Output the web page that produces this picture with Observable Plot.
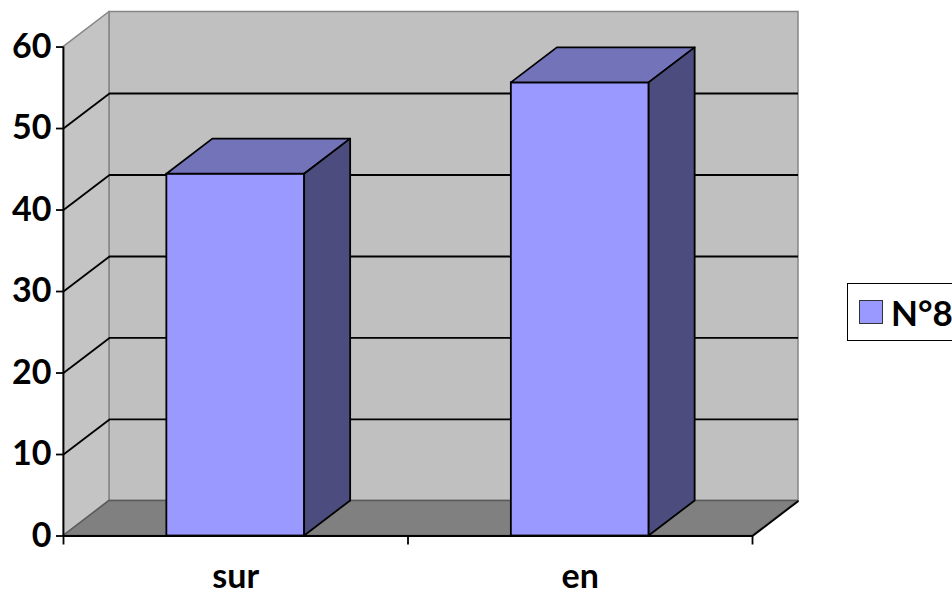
<!DOCTYPE html>
<html>
<head>
<meta charset="utf-8">
<script src="https://cdn.jsdelivr.net/npm/d3@7"></script>
<script src="https://cdn.jsdelivr.net/npm/@observablehq/plot@0.6"></script>
<style>
  body { margin: 0; background: #fff; overflow: hidden; }
  #chart { position: relative; width: 952px; height: 595px; }
  .legend {
    position: absolute; left: 847px; top: 283px; width: 130px; height: 58px;
    box-sizing: border-box; border: 1.5px solid #000; background: #fff;
    display: flex; align-items: center;
    font-family: Lato, "Open Sans", sans-serif; font-weight: bold; font-size: 35px; color: #000;
  }
  .legend .swatch {
    width: 22px; height: 22px; margin: 0 8px 0 11px; background: #9999ff; border: 1px solid #333;
  }
</style>
</head>
<body>
<div id="chart"></div>
<script>
// Categories and values of the single series
const categories = ["sur", "en"];
const values = [44.4, 55.6];
const yTicks = [0, 10, 20, 30, 40, 50, 60];
const seriesName = "N°8";

// Depth of the 3D box: in category units along x and value units along y
const DX = 0.1335, DY = 4.3;
const n = categories.length;
const yMax = yTicks[yTicks.length - 1];
const barLo = 0.3, barHi = 0.7;

const bars = categories.map((c, i) => ({ c, x0: i + barLo, x1: i + barHi, v: values[i] }));
const tops = bars.flatMap(b => [
  { c: b.c, y: b.v, x1: b.x0, x2: b.x1 },
  { c: b.c, y: b.v + DY, x1: b.x0 + DX, x2: b.x1 + DX }
]);
const sides = bars.flatMap(b => [
  { c: b.c, x: b.x1, y1: 0, y2: b.v },
  { c: b.c, x: b.x1 + DX, y1: DY, y2: b.v + DY }
]);
const leftWall = [{ x: 0, y1: 0, y2: yMax }, { x: DX, y1: DY, y2: yMax + DY }];
const floor = [{ y: 0, x1: 0, x2: n }, { y: DY, x1: DX, x2: n + DX }];
const grid = yTicks.slice(1, -1);

const plot = Plot.plot({
  width: 952,
  height: 595,
  marginLeft: 63,
  marginRight: 154,
  marginTop: 11.5,
  marginBottom: 59.5,
  style: { fontFamily: "Lato, 'Open Sans', sans-serif", fontWeight: "bold", fontSize: "34px", color: "#000", background: "#fff", overflow: "visible" },
  x: { type: "linear", domain: [0, n + DX] },
  y: { type: "linear", domain: [0, yMax + DY] },
  marks: [
    // walls and floor
    Plot.rect([{}], { x1: DX, x2: n + DX, y1: DY, y2: yMax + DY, fill: "#c0c0c0", stroke: "#868686", strokeWidth: 1.5 }),
    Plot.areaY(leftWall, { x: "x", y1: "y1", y2: "y2", fill: "#c4c4c4", stroke: "#868686", strokeWidth: 1.5 }),
    Plot.areaX(floor, { y: "y", x1: "x1", x2: "x2", fill: "#808080", stroke: "#5a5a5a", strokeWidth: 1.5 }),
    // gridlines on the back wall and the side wall
    Plot.ruleY(grid, { y: d => d + DY, x1: DX, x2: n + DX, stroke: "#000", strokeWidth: 1.8 }),
    Plot.link(grid, { x1: 0, y1: d => d, x2: DX, y2: d => d + DY, stroke: "#000", strokeWidth: 1.8 }),
    Plot.link([{}], { x1: n, y1: 0, x2: n + DX, y2: DY, stroke: "#000", strokeWidth: 1.8 }),
    // columns: front, top and side faces
    Plot.rect(bars, { x1: "x0", x2: "x1", y1: 0, y2: "v", fill: "#9999ff", stroke: "#000", strokeWidth: 1.8 }),
    Plot.areaX(tops, { y: "y", x1: "x1", x2: "x2", z: "c", fill: "#7373b9", stroke: "#000", strokeWidth: 1.8 }),
    Plot.areaY(sides, { x: "x", y1: "y1", y2: "y2", z: "c", fill: "#4c4c7e", stroke: "#000", strokeWidth: 1.8 }),
    // axes
    Plot.ruleX([0], { y1: 0, y2: yMax, stroke: "#000", strokeWidth: 1.8 }),
    Plot.ruleY([0], { x1: 0, x2: n, stroke: "#000", strokeWidth: 2 }),
    Plot.axisY(yTicks, { tickSize: 7, tickPadding: 5, strokeWidth: 1.8 }),
    Plot.axisX(d3.range(n + 1), { tickSize: 9, tickFormat: () => "", strokeWidth: 1.8 }),
    Plot.axisX(categories.map((c, i) => i + 0.5), { tickSize: 0, tickPadding: 28, tickFormat: d => categories[Math.floor(d)] })
  ]
});

const chart = document.getElementById("chart");
chart.appendChild(plot);

const legend = document.createElement("div");
legend.className = "legend";
legend.innerHTML = `<div class="swatch"></div><span>${seriesName}</span>`;
chart.appendChild(legend);
</script>
</body>
</html>
